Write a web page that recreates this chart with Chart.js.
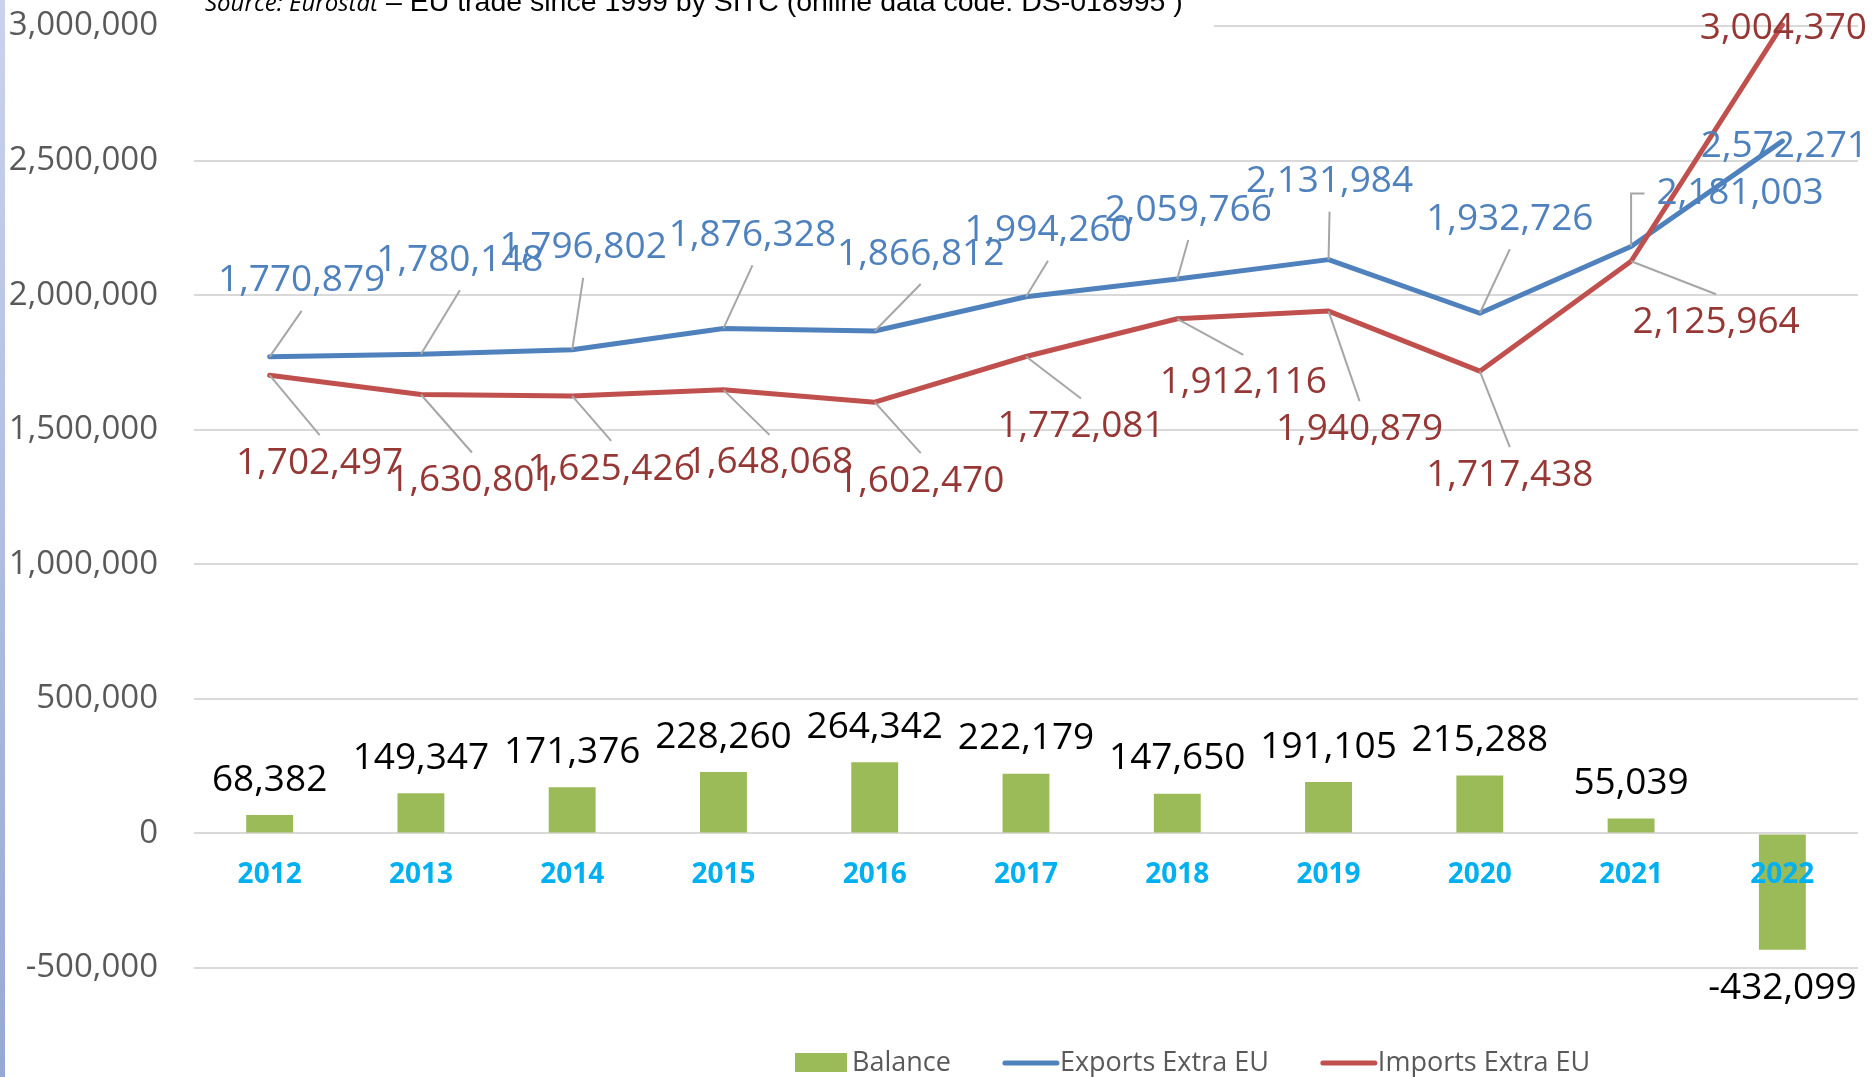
<!DOCTYPE html>
<html>
<head>
<meta charset="utf-8">
<title>EU trade extra EU</title>
<script src="https://cdn.jsdelivr.net/npm/chart.js@4.4.0/dist/chart.umd.min.js"></script>
<style>
    html, body { margin: 0; padding: 0; background: #fff; }
    #wrap { position: relative; width: 1872px; height: 1077px; overflow: hidden; }
    #edge { position: absolute; left: 0; top: 0; width: 5px; height: 1077px;
            background: linear-gradient(#c9d3ec, #98a8d6); }
</style>
</head>
<body>
<div id="wrap">
    <canvas id="trade-chart" width="1872" height="1077"></canvas>
    <div id="edge"></div>
</div>
<script>
var years = ['2012', '2013', '2014', '2015', '2016', '2017', '2018', '2019', '2020', '2021', '2022'];
var exportsExtraEU = [1770879, 1780148, 1796802, 1876328, 1866812, 1994260, 2059766, 2131984, 1932726, 2181003, 2572271];
var importsExtraEU = [1702497, 1630801, 1625426, 1648068, 1602470, 1772081, 1912116, 1940879, 1717438, 2125964, 3004370];
var balance = [68382, 149347, 171376, 228260, 264342, 222179, 147650, 191105, 215288, 55039, -432099];
var yMin = -500000;
var yMax = 3000000;
var yStep = 500000;
var sourceItalic = 'Source: Eurostat';
var sourceText = ' \u2013 EU trade since 1999 by SITC (online data code: DS-018995 )';

// where the labels sit, relative to their point (pixels), and how the leader line goes
var exportLabelOffsets = [[32, -76], [39, -94], [11, -102], [29, -93], [46, -77], [22, -66], [11, -69], [1, -78], [30, -94], [109, -53], [2, 5]];
var exportLeaders = ['up', 'up', 'up', 'up', 'up', 'up', 'up', 'up', 'up', 'elbow', 'none'];
var importLabelOffsets = [[50, 88], [51, 86], [39, 73], [46, 73], [46, 79], [55, 70], [66, 64], [31, 118], [30, 104], [85, 61], [1, 4]];
var importLeaders = ['down', 'down', 'down', 'down', 'down', 'down', 'down', 'down', 'down', 'down', 'none'];

var labelFont = '37px "Open Sans"';

function fmt(v) {
    return Number(v).toLocaleString('en-US');
}

function drawLineLabels(ctx, meta, values, offsets, leaders, color) {
    ctx.font = labelFont;
    for (let i = 0; i < values.length; i++) {
        var pt = meta.data[i];
        var lx = pt.x + offsets[i][0];
        var ly = pt.y + offsets[i][1];
        var txt = fmt(values[i]);
        var w = ctx.measureText(txt).width;

        ctx.strokeStyle = '#A6A6A6';
        ctx.lineWidth = 2;
        ctx.beginPath();
        if (leaders[i] == 'up') {
            ctx.moveTo(pt.x, pt.y);
            ctx.lineTo(lx, ly + 30);
            ctx.stroke();
        } else if (leaders[i] == 'down') {
            ctx.moveTo(pt.x, pt.y);
            ctx.lineTo(lx, ly - 28);
            ctx.stroke();
        } else if (leaders[i] == 'elbow') {
            ctx.moveTo(pt.x, pt.y);
            ctx.lineTo(pt.x, ly);
            ctx.lineTo(lx - w / 2 - 12, ly);
            ctx.stroke();
        }

        ctx.fillStyle = color;
        ctx.textAlign = 'center';
        ctx.textBaseline = 'middle';
        ctx.fillText(txt, lx, ly);
    }
}

var labelsPlugin = {
    id: 'valueLabels',
    afterDatasetsDraw: function(chart) {
        var ctx = chart.ctx;
        ctx.save();
        // balance bars
        var barMeta = chart.getDatasetMeta(0);
        ctx.font = labelFont;
        ctx.fillStyle = '#000000';
        ctx.textAlign = 'center';
        ctx.textBaseline = 'middle';
        for (let i = 0; i < balance.length; i++) {
            var bar = barMeta.data[i];
            var y = balance[i] >= 0 ? bar.y - 35 : bar.y + 39;
            ctx.fillText(fmt(balance[i]), bar.x, y);
        }
        drawLineLabels(ctx, chart.getDatasetMeta(1), exportsExtraEU, exportLabelOffsets, exportLeaders, '#4F81BD');
        drawLineLabels(ctx, chart.getDatasetMeta(2), importsExtraEU, importLabelOffsets, importLeaders, '#953735');
        ctx.restore();
    },
    afterDraw: function(chart) {
        var ctx = chart.ctx;
        ctx.save();
        // source note sits on a white box over the top gridline
        ctx.fillStyle = '#ffffff';
        ctx.fillRect(190, 0, 1024, 34);
        ctx.fillStyle = '#000000';
        ctx.textAlign = 'left';
        ctx.textBaseline = 'alphabetic';
        ctx.font = 'italic 24px "Open Sans"';
        ctx.fillText(sourceItalic, 205, 11);
        var x2 = 205 + ctx.measureText(sourceItalic).width;
        ctx.font = '28.5px "Liberation Sans"';
        ctx.fillText(sourceText, x2, 11);

        // legend
        var x = 795;
        var cy = 1063;
        ctx.font = '27px "Open Sans"';
        ctx.textBaseline = 'middle';
        chart.data.datasets.forEach(function(ds) {
            if (ds.type == 'bar') {
                ctx.fillStyle = ds.backgroundColor;
                ctx.fillRect(x, cy - 10, 52, 19);
            } else {
                ctx.strokeStyle = ds.borderColor;
                ctx.lineWidth = 5;
                ctx.lineCap = 'round';
                ctx.beginPath();
                ctx.moveTo(x + 2, cy);
                ctx.lineTo(x + 54, cy);
                ctx.stroke();
            }
            ctx.fillStyle = '#595959';
            ctx.fillText(ds.label, x + 57, cy);
            x += 57 + ctx.measureText(ds.label).width + 52;
        });
        ctx.restore();
    }
};

var ctx = document.getElementById('trade-chart').getContext('2d');
var chart = new Chart(ctx, {
    data: {
        labels: years,
        datasets: [{
            type: 'bar',
            label: 'Balance',
            data: balance,
            backgroundColor: '#9BBB59',
            borderWidth: 0,
            barPercentage: 0.31,
            categoryPercentage: 1,
            order: 2
        }, {
            type: 'line',
            label: 'Exports Extra EU',
            data: exportsExtraEU,
            borderColor: '#4F81BD',
            backgroundColor: '#4F81BD',
            borderWidth: 5,
            borderCapStyle: 'round',
            borderJoinStyle: 'round',
            pointRadius: 0,
            tension: 0,
            clip: false,
            order: 1
        }, {
            type: 'line',
            label: 'Imports Extra EU',
            data: importsExtraEU,
            borderColor: '#C0504D',
            backgroundColor: '#C0504D',
            borderWidth: 5,
            borderCapStyle: 'round',
            borderJoinStyle: 'round',
            pointRadius: 0,
            tension: 0,
            clip: false,
            order: 0
        }]
    },
    options: {
        responsive: false,
        animation: false,
        devicePixelRatio: 1,
        layout: {
            padding: { left: 10, right: 14, top: 26, bottom: 109 }
        },
        plugins: {
            legend: { display: false },
            tooltip: { enabled: false }
        },
        scales: {
            x: {
                position: { y: 0 },
                offset: true,
                grid: { display: false, drawTicks: false },
                border: { display: false },
                ticks: {
                    z: 1,
                    color: '#00B0F0',
                    padding: 25,
                    font: { family: 'Open Sans', size: 28, weight: 'bold' }
                },
                afterFit: function(scale) {
                    scale.height = 0;
                    scale.paddingTop = 0;
                    scale.paddingBottom = 0;
                }
            },
            y: {
                min: yMin,
                max: yMax,
                grid: { color: '#D9D9D9', lineWidth: 2, drawTicks: false },
                border: { display: false },
                ticks: {
                    stepSize: yStep,
                    color: '#595959',
                    padding: 36,
                    font: { family: 'Open Sans', size: 33 },
                    callback: function(v) { return fmt(v); }
                },
                afterFit: function(scale) {
                    scale.width = 184;
                    scale.paddingTop = 0;
                    scale.paddingBottom = 0;
                }
            }
        }
    },
    plugins: [labelsPlugin]
});
</script>
</body>
</html>
